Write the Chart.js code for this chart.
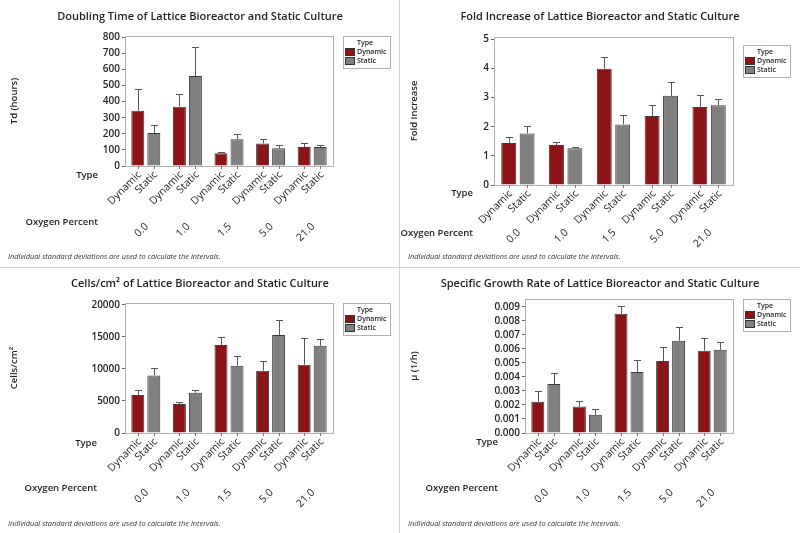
<!DOCTYPE html>
<html>
<head>
<meta charset="utf-8">
<script src="https://cdn.jsdelivr.net/npm/chart.js@4"></script>
<style>
  body { margin: 0; background: #fff; }
  #wrap { position: relative; width: 800px; height: 533px; overflow: hidden; }
  canvas { position: absolute; }
  .vline { position: absolute; left: 399px; top: 0; width: 1px; height: 533px; background: #d4d4d4; }
  .hline { position: absolute; left: 0; top: 267px; width: 800px; height: 1px; background: #d4d4d4; }
</style>
</head>
<body>
<div id="wrap">
  <canvas id="c1" width="400" height="267" style="left:0;top:0"></canvas>
  <canvas id="c2" width="400" height="267" style="left:400px;top:0"></canvas>
  <canvas id="c3" width="400" height="266" style="left:0;top:267px"></canvas>
  <canvas id="c4" width="400" height="266" style="left:400px;top:267px"></canvas>
  <div class="vline"></div>
  <div class="hline"></div>
</div>
<script>
const oxygen = ['0.0', '1.0', '1.5', '5.0', '21.0'];
const types = ['Dynamic', 'Static'];

// doubling time (hours), mean and standard deviation
const tdDynamic = [344, 369, 80, 140, 118];
const tdDynamicSd = [136, 77, 8, 28, 23];
const tdStatic = [205, 559, 167, 110, 118];
const tdStaticSd = [47, 179, 29, 18, 14];
const tdTicks = [0, 100, 200, 300, 400, 500, 600, 700, 800];

// fold increase
const foldDynamic = [1.44, 1.37, 3.99, 2.37, 2.68];
const foldDynamicSd = [0.20, 0.10, 0.42, 0.39, 0.41];
const foldStatic = [1.77, 1.26, 2.08, 3.06, 2.74];
const foldStaticSd = [0.27, 0.06, 0.32, 0.49, 0.22];
const foldTicks = [0, 1, 2, 3, 4, 5];

// cells/cm2
const cellsDynamic = [5920, 4520, 13720, 9710, 10650];
const cellsDynamicSd = [780, 310, 1240, 1450, 4210];
const cellsStatic = [8980, 6280, 10490, 15280, 13610];
const cellsStaticSd = [1150, 360, 1510, 2330, 1040];
const cellsTicks = [0, 5000, 10000, 15000, 20000];

// specific growth rate (1/h)
const muDynamic = [0.00224, 0.0019, 0.00852, 0.00514, 0.00588];
const muDynamicSd = [0.00073, 0.0004, 0.00055, 0.001, 0.00091];
const muStatic = [0.0035, 0.0013, 0.00436, 0.00659, 0.00595];
const muStaticSd = [0.00079, 0.00039, 0.00083, 0.00098, 0.00055];
const muTicks = [0, 0.001, 0.002, 0.003, 0.004, 0.005, 0.006, 0.007, 0.008, 0.009];

const FONT = '"Open Sans", "Noto Sans", sans-serif';
const DARK = '#1e1e1e';
const footnote = 'Individual standard deviations are used to calculate the intervals.';

const minitab = {
  id: 'minitab',
  afterDatasetsDraw(chart, args, o) {
    const { ctx, chartArea: a } = chart;
    const y = chart.scales.y;
    const x = chart.scales.x;
    ctx.save();

    // error bars (upper only)
    ctx.strokeStyle = '#555';
    ctx.lineWidth = 1;
    chart.data.datasets.forEach((ds, di) => {
      chart.getDatasetMeta(di).data.forEach((bar, i) => {
        const yt = Math.round(y.getPixelForValue(ds.data[i] + ds.sd[i])) + 0.5;
        const bx = Math.round(bar.x) + 0.5;
        ctx.beginPath();
        ctx.moveTo(bx, bar.y);
        ctx.lineTo(bx, yt);
        ctx.moveTo(bx - 3.5, yt);
        ctx.lineTo(bx + 3.5, yt);
        ctx.stroke();
      });
    });

    // plot frame
    ctx.strokeStyle = '#b0b0b0';
    ctx.strokeRect(Math.round(a.left) + 0.5, Math.round(a.top) + 0.5,
      Math.round(a.right - a.left), Math.round(a.bottom - a.top));

    // title
    ctx.fillStyle = DARK;
    ctx.font = '600 11px ' + FONT;
    ctx.textAlign = 'center';
    ctx.textBaseline = 'middle';
    ctx.fillText(o.title, chart.width / 2, o.titleY);

    // bar ticks and type labels
    ctx.font = '10.5px ' + FONT;
    ctx.strokeStyle = '#777';
    chart.data.datasets.forEach((ds, di) => {
      chart.getDatasetMeta(di).data.forEach((bar) => {
        const bx = Math.round(bar.x) + 0.5;
        ctx.beginPath();
        ctx.moveTo(bx, a.bottom);
        ctx.lineTo(bx, a.bottom + 3);
        ctx.stroke();
        ctx.save();
        ctx.translate(bar.x + 2, a.bottom + o.typeDy);
        ctx.rotate(-Math.PI / 4);
        ctx.textAlign = 'right';
        ctx.fillText(ds.label, 0, 0);
        ctx.restore();
      });
    });

    // oxygen group labels
    chart.data.labels.forEach((lab, i) => {
      ctx.save();
      ctx.translate(x.getPixelForValue(i) + 1, a.bottom + o.groupDy);
      ctx.rotate(-Math.PI / 4);
      ctx.textAlign = 'right';
      ctx.fillText(lab, 0, 0);
      ctx.restore();
    });

    ctx.textAlign = 'right';
    ctx.font = '600 9.5px ' + FONT;
    ctx.fillText('Type', a.left + o.rowDx, a.bottom + o.typeRowDy);
    ctx.fillText('Oxygen Percent', a.left + o.rowDx, a.bottom + o.oxyRowDy);

    // legend
    const lx = a.right + 10, ly = o.legendY;
    ctx.strokeStyle = '#b0b0b0';
    ctx.strokeRect(lx + 0.5, ly + 0.5, 47, 32);
    ctx.font = '600 7px ' + FONT;
    ctx.textAlign = 'center';
    ctx.fillText('Type', lx + 22, ly + 6.5);
    ctx.textAlign = 'left';
    chart.data.datasets.forEach((ds, di) => {
      const sy = ly + 12 + di * 9;
      ctx.fillStyle = ds.backgroundColor;
      ctx.fillRect(lx + 2.5, sy + 0.5, 9, 7);
      ctx.strokeStyle = '#333';
      ctx.strokeRect(lx + 2.5, sy + 0.5, 9, 7);
      ctx.fillStyle = DARK;
      ctx.fillText(ds.label, lx + 14, sy + 4);
    });

    // footnote
    ctx.font = 'italic 7.4px ' + FONT;
    ctx.fillStyle = '#333';
    ctx.fillText(footnote, 8, o.footY);
    ctx.restore();
  }
};

function makeChart(id, p) {
  const cv = document.getElementById(id);
  const H = cv.height;
  return new Chart(cv, {
    type: 'bar',
    data: {
      labels: oxygen,
      datasets: [
        { label: types[0], data: p.dyn, sd: p.dynSd, backgroundColor: '#8c1416' },
        { label: types[1], data: p.sta, sd: p.staSd, backgroundColor: '#808080' }
      ]
    },
    options: {
      responsive: false,
      animation: false,
      devicePixelRatio: 1,
      layout: { padding: { left: 0, right: cv.width - p.right, top: p.top, bottom: 0 } },
      datasets: {
        bar: { categoryPercentage: 0.77, barPercentage: 0.81, borderWidth: 1, borderColor: '#3c3c3c' }
      },
      plugins: {
        legend: { display: false },
        tooltip: { enabled: false },
        minitab: p.deco
      },
      scales: {
        x: {
          ticks: { display: false },
          grid: { display: false },
          border: { display: false },
          afterFit: s => { s.height = H - p.bottom; }
        },
        y: {
          min: 0,
          max: p.max,
          afterFit: s => { s.width = p.left; },
          afterBuildTicks: s => { s.ticks = p.ticks.map(v => ({ value: v })); },
          border: { display: false },
          grid: { drawOnChartArea: false, drawTicks: true, tickLength: 3, color: '#666' },
          ticks: {
            autoSkip: false,
            padding: 2,
            color: DARK,
            font: { family: FONT, size: 10, weight: '600' },
            callback: p.fmt
          },
          title: {
            display: true,
            text: p.yTitle,
            color: DARK,
            font: { family: FONT, size: 9.5, weight: '600' },
            padding: { top: 9, bottom: 0 }
          }
        }
      }
    },
    plugins: [minitab]
  });
}

makeChart('c1', {
  dyn: tdDynamic, dynSd: tdDynamicSd, sta: tdStatic, staSd: tdStaticSd, ticks: tdTicks,
  left: 125, right: 333, top: 36, bottom: 166, max: 808,
  fmt: v => String(v), yTitle: 'Td (hours)',
  deco: { title: 'Doubling Time of Lattice Bioreactor and Static Culture', titleY: 17,
    typeDy: 7, groupDy: 59, rowDx: -27, typeRowDy: 9, oxyRowDy: 56, legendY: 36, footY: 257 }
});

makeChart('c2', {
  dyn: foldDynamic, dynSd: foldDynamicSd, sta: foldStatic, staSd: foldStaticSd, ticks: foldTicks,
  left: 94, right: 333, top: 37, bottom: 185, max: 5.08,
  fmt: v => String(v), yTitle: 'Fold Increase',
  deco: { title: 'Fold Increase of Lattice Bioreactor and Static Culture', titleY: 17,
    typeDy: 7, groupDy: 46, rowDx: -21, typeRowDy: 8, oxyRowDy: 48, legendY: 45, footY: 257 }
});

makeChart('c3', {
  dyn: cellsDynamic, dynSd: cellsDynamicSd, sta: cellsStatic, staSd: cellsStaticSd, ticks: cellsTicks,
  left: 125, right: 333, top: 36, bottom: 166, max: 20265,
  fmt: v => String(v), yTitle: 'Cells/cm²',
  deco: { title: 'Cells/cm² of Lattice Bioreactor and Static Culture', titleY: 17,
    typeDy: 7, groupDy: 58, rowDx: -28, typeRowDy: 10, oxyRowDy: 55, legendY: 36, footY: 257 }
});

makeChart('c4', {
  dyn: muDynamic, dynSd: muDynamicSd, sta: muStatic, staSd: muStaticSd, ticks: muTicks,
  left: 125, right: 333, top: 32, bottom: 166, max: 0.00957,
  fmt: v => v.toFixed(3), yTitle: 'µ (1/h)',
  deco: { title: 'Specific Growth Rate of Lattice Bioreactor and Static Culture', titleY: 17,
    typeDy: 7, groupDy: 58, rowDx: -27, typeRowDy: 9, oxyRowDy: 55, legendY: 32, footY: 257 }
});
</script>
</body>
</html>
